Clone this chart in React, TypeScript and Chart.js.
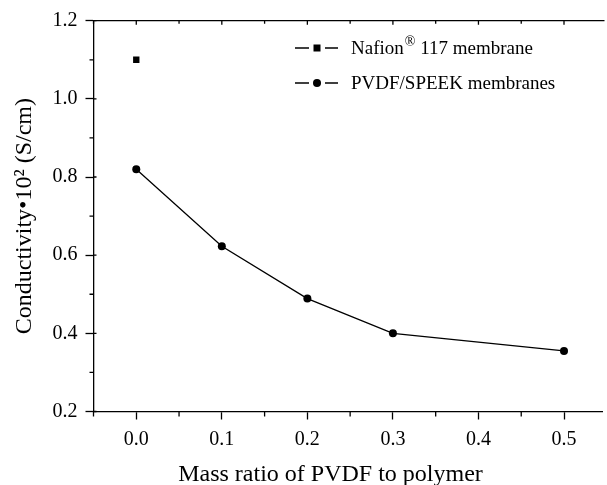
import React, { useEffect, useRef } from "react";
import { Chart, registerables } from "chart.js";

Chart.register(...registerables);

const massRatio = [0.0, 0.1, 0.2, 0.3, 0.5];
const pvdfConductivity = [0.82, 0.623, 0.489, 0.4, 0.355];
const nafionRatio = [0.0];
const nafionConductivity = [1.1];
const xMajorTicks = [0.0, 0.1, 0.2, 0.3, 0.4, 0.5];
const xMinorTicks = [-0.05, 0.05, 0.15, 0.25, 0.35, 0.45];
const yMajorTicks = [0.2, 0.4, 0.6, 0.8, 1.0, 1.2];
const yMinorTicks = [0.3, 0.5, 0.7, 0.9, 1.1];
const legendLabels = ["Nafion", "PVDF/SPEEK membranes"];
const xTitle = "Mass ratio of PVDF to polymer";
const yTitle = "Conductivity\u202210\u00B2 (S/cm)";

const FONT = "'Liberation Serif', 'Times New Roman', serif";

const frameTicksPlugin = {
  id: "frameTicks",
  afterDraw(chart: any) {
    const ctx = chart.ctx;
    const { left, right, top, bottom } = chart.chartArea;
    const xs = chart.scales.x;
    const ys = chart.scales.y;
    ctx.save();
    ctx.strokeStyle = "#000";
    ctx.lineWidth = 1.3;
    // top frame line
    ctx.beginPath();
    ctx.moveTo(left, top);
    ctx.lineTo(right + 2, top);
    ctx.stroke();
    ctx.beginPath();
    xMinorTicks.forEach((v) => {
      const px = xs.getPixelForValue(v);
      ctx.moveTo(px, bottom);
      ctx.lineTo(px, bottom + 5);
      ctx.moveTo(px, top);
      ctx.lineTo(px, top + 3);
    });
    xMajorTicks.forEach((v) => {
      const px = xs.getPixelForValue(v);
      ctx.moveTo(px, top);
      ctx.lineTo(px, top + 4);
    });
    yMinorTicks.forEach((v) => {
      const py = ys.getPixelForValue(v);
      ctx.moveTo(left, py);
      ctx.lineTo(left - 4, py);
    });
    yMajorTicks.forEach((v) => {
      const py = ys.getPixelForValue(v);
      ctx.moveTo(left, py);
      ctx.lineTo(left + 3, py);
    });
    ctx.stroke();

    // x axis title
    ctx.fillStyle = "#000";
    ctx.font = `24px ${FONT}`;
    ctx.textAlign = "center";
    ctx.textBaseline = "alphabetic";
    ctx.fillText(xTitle, 330.5, 480.5);

    // legend
    const rows = [
      { y: 48, marker: "square" },
      { y: 83, marker: "circle" },
    ];
    const lx0 = 295;
    const lx1 = 338;
    const mx = 317;
    rows.forEach((r, i) => {
      ctx.beginPath();
      ctx.lineWidth = 1.3;
      ctx.moveTo(lx0, r.y);
      ctx.lineTo(mx - 8, r.y);
      ctx.moveTo(mx + 8, r.y);
      ctx.lineTo(lx1, r.y);
      ctx.stroke();
      ctx.fillStyle = "#000";
      if (r.marker === "square") {
        ctx.fillRect(mx - 3.5, r.y - 3.5, 7, 7);
      } else {
        ctx.beginPath();
        ctx.arc(mx, r.y, 4, 0, Math.PI * 2);
        ctx.fill();
      }
      ctx.textBaseline = "middle";
      ctx.textAlign = "left";
      ctx.font = `19px ${FONT}`;
      const tx = 351;
      if (i === 0) {
        ctx.fillText(legendLabels[0], tx, r.y + 1);
        const w = ctx.measureText(legendLabels[0]).width;
        ctx.font = `14px ${FONT}`;
        ctx.fillText("\u00AE", tx + w + 1, r.y - 6);
        const w2 = ctx.measureText("\u00AE").width;
        ctx.font = `19px ${FONT}`;
        ctx.fillText(" 117 membrane", tx + w + 1 + w2, r.y + 1);
      } else {
        ctx.fillText(legendLabels[1], tx, r.y + 1);
      }
    });
    ctx.restore();
  },
};

export default function App() {
  const ref = useRef<HTMLCanvasElement | null>(null);
  useEffect(() => {
    if (!ref.current) return;
    const chart = new Chart(ref.current, {
      type: "scatter",
      data: {
        datasets: [
          {
            label: "Nafion 117 membrane",
            data: nafionRatio.map((x, i) => ({ x, y: nafionConductivity[i] })),
            showLine: false,
            pointStyle: "rect",
            pointRadius: 4.5,
            backgroundColor: "#000",
            borderColor: "#000",
            borderWidth: 0,
          },
          {
            label: "PVDF/SPEEK membranes",
            data: massRatio.map((x, i) => ({ x, y: pvdfConductivity[i] })),
            showLine: true,
            pointStyle: "circle",
            pointRadius: 4,
            backgroundColor: "#000",
            borderColor: "#000",
            borderWidth: 1.3,
            pointBorderWidth: 0,
          },
        ],
      },
      options: {
        responsive: false,
        animation: false,
        layout: { padding: { top: 20.7, right: 0, left: 0, bottom: 0 } },
        plugins: { legend: { display: false }, tooltip: { enabled: false } },
        scales: {
          x: {
            type: "linear",
            min: -0.05,
            max: 0.545,
            afterBuildTicks: (s: any) => {
              s.ticks = xMajorTicks.map((v) => ({ value: v }));
            },
            afterFit: (s: any) => {
              s.height = 73.5;
            },
            ticks: {
              color: "#000",
              font: { family: FONT, size: 20 },
              padding: 8,
              maxRotation: 0,
              callback: (v: any) => Number(v).toFixed(1),
            },
            grid: {
              display: true,
              drawOnChartArea: false,
              tickLength: 8,
              tickColor: "#000",
              tickWidth: 1.3,
            },
            border: { display: true, color: "#000", width: 1.3 },
            title: { display: false },
          },
          y: {
            type: "linear",
            min: 0.2,
            max: 1.2,
            afterBuildTicks: (s: any) => {
              s.ticks = yMajorTicks.map((v) => ({ value: v }));
            },
            afterFit: (s: any) => {
              s.width = 93.5;
            },
            ticks: {
              color: "#000",
              font: { family: FONT, size: 20 },
              padding: 8,
              callback: (v: any) => Number(v).toFixed(1),
            },
            grid: {
              display: true,
              drawOnChartArea: false,
              tickLength: 8,
              tickColor: "#000",
              tickWidth: 1.3,
            },
            border: { display: true, color: "#000", width: 1.3 },
            title: {
              display: true,
              text: yTitle,
              color: "#000",
              font: { family: FONT, size: 24 },
              padding: { top: 10, bottom: 0 },
            },
          },
        },
      },
      plugins: [frameTicksPlugin],
    });
    return () => chart.destroy();
  }, []);
  return (
    <div style={{ position: "fixed", left: 0, top: 0, width: 607, height: 485, background: "#fff" }}>
      <canvas ref={ref} width={607} height={485} style={{ display: "block", width: 607, height: 485 }} />
    </div>
  );
}
